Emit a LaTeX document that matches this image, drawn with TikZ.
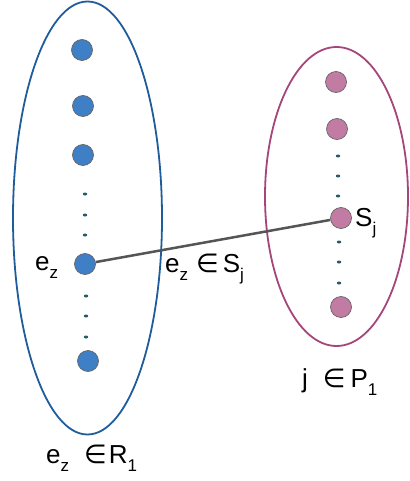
\documentclass[tikz,border=0pt]{standalone}
\usepackage{fontspec}
\setmainfont{Liberation Sans}
\newfontfamily\symfont{DejaVu Sans}
\newcommand\subx[1]{\raisebox{-8pt}{\fontsize{17}{17}\selectfont #1}}
\newcommand\elem{{\symfont ∈}}
\definecolor{bluefill}{HTML}{3F7FC6}
\definecolor{bluering}{HTML}{1F5C9C}
\definecolor{pinkfill}{HTML}{C27BA2}
\definecolor{pinkring}{HTML}{A4467B}
\definecolor{tealdot}{HTML}{2B5A6B}
\definecolor{linkgray}{HTML}{555555}
\tikzset{
  bdot/.style={circle,minimum size=21pt,inner sep=0,fill=bluefill,draw=gray!80!black,line width=0.7pt},
  pdot/.style={circle,minimum size=21pt,inner sep=0,fill=pinkfill,draw=gray!80!black,line width=0.7pt},
  sdot/.style={ellipse,minimum width=4.5pt,minimum height=3pt,inner sep=0,fill=tealdot},
  lbl/.style={anchor=base west,inner sep=0,font=\fontsize{26}{26}\selectfont},
}
\usetikzlibrary{shapes.geometric}
\begin{document}
\begin{tikzpicture}[x=1pt,y=-1pt]
\useasboundingbox (0,0) rectangle (409,481);
% ellipses
\draw[bluering,line width=1.8pt] (87.5,218) ellipse [x radius=74.5,y radius=216.5];
\draw[pinkring,line width=1.8pt] (336.5,196.5) ellipse [x radius=71.5,y radius=149.5];
% left dots
\node[bdot] (l1) at (82,50) {};
\node[bdot] (l2) at (83,106) {};
\node[bdot] (l3) at (83,155) {};
\node[sdot] (la) at (85,194) {};
\node[sdot] (lb) at (85,215) {};
\node[sdot] (lc) at (85,235) {};
\node[sdot] (ld) at (86,296) {};
\node[sdot] (le) at (86,316) {};
\node[sdot] (lf) at (86,337) {};
\node[bdot] (l5) at (88,361) {};
% right dots
\node[pdot] (r1) at (336,82) {};
\node[pdot] (r2) at (337,129) {};
\node[sdot] (ra) at (338,156) {};
\node[sdot] (rb) at (338,176) {};
\node[sdot] (rc) at (338,196) {};
\node[sdot] (rd) at (339,242) {};
\node[sdot] (re) at (339,262) {};
\node[sdot] (rf) at (339,283) {};
\node[pdot] (r5) at (341,307) {};
% link
\node[bdot] (ez) at (85,264) {};
\node[pdot] (sj) at (341,218) {};
\draw[linkgray,line width=2.5pt] (ez) -- (sj);
% labels
\node[lbl] (tez) at (35,270) {e\subx{z}};
\node[lbl] (tsj) at (355,226) {S\subx{j}};
\node[lbl] (tmid) at (165,272) {e\subx{z}\hspace{8pt}\elem\hspace{4pt}S\subx{j}};
\node[lbl] (tjp) at (302,387) {j\hspace{15pt}\elem\hspace{5pt}P\subx{1}};
\node[lbl] (tez1) at (46,463) {e\subx{z}\hspace{15pt}\elem\hspace{2pt}R\subx{1}};
\end{tikzpicture}
\end{document}
